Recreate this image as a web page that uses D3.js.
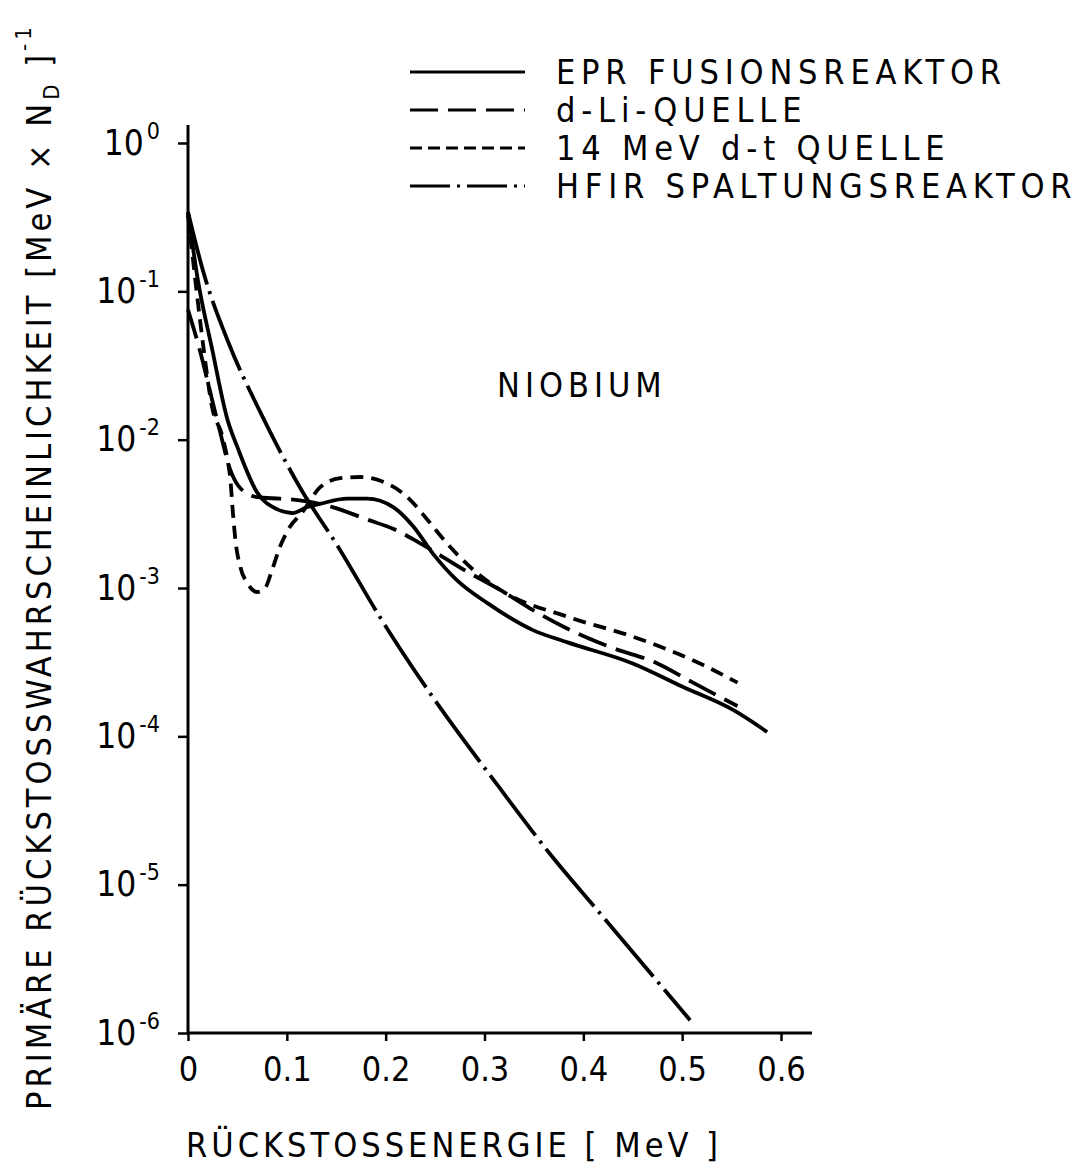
<!DOCTYPE html>
<html>
<head>
<meta charset="utf-8">
<script src="https://cdn.jsdelivr.net/npm/d3@7"></script>
<style>
  body { margin: 0; background: #fff; }
  text { font-family: "DejaVu Sans Condensed", "DejaVu Sans", sans-serif; fill: #000; }
</style>
</head>
<body>
<div id="chart-area"></div>
<script>
// recoil energy (MeV) and probability per series
const eprEnergy = [0, 0.010, 0.024, 0.040, 0.050, 0.070, 0.090, 0.106, 0.120, 0.134, 0.161, 0.181, 0.208, 0.228, 0.248, 0.272, 0.303, 0.349, 0.384, 0.450, 0.501, 0.552, 0.586];
const eprValues = [0.343, 0.119, 0.042, 0.0136, 0.0089, 0.0044, 0.0034, 0.0032, 0.0035, 0.0037, 0.0040, 0.0040, 0.0035, 0.0026, 0.0017, 0.00113, 0.00079, 0.00052, 0.00043, 0.00031, 0.000215, 0.00015, 0.000107];

const dliEnergy = [0, 0.012, 0.022, 0.032, 0.043, 0.053, 0.070, 0.093, 0.113, 0.147, 0.181, 0.208, 0.235, 0.285, 0.316, 0.346, 0.382, 0.427, 0.475, 0.511, 0.556];
const dliValues = [0.075, 0.040, 0.0216, 0.0116, 0.0062, 0.0047, 0.0041, 0.0040, 0.0039, 0.0035, 0.0029, 0.0025, 0.0020, 0.00126, 0.00097, 0.00073, 0.00054, 0.00040, 0.00031, 0.00023, 0.00016];

const dtEnergy = [0, 0.008, 0.016, 0.024, 0.035, 0.040, 0.043, 0.045, 0.048, 0.053, 0.060, 0.070, 0.078, 0.085, 0.093, 0.103, 0.115, 0.134, 0.154, 0.174, 0.194, 0.222, 0.242, 0.262, 0.289, 0.316, 0.384, 0.450, 0.518, 0.556];
const dtValues = [0.327, 0.110, 0.040, 0.017, 0.0104, 0.0073, 0.0053, 0.0035, 0.0021, 0.00138, 0.00108, 0.00094, 0.00100, 0.00132, 0.00189, 0.00258, 0.0032, 0.0048, 0.0055, 0.0056, 0.0053, 0.0041, 0.0029, 0.0020, 0.00132, 0.00097, 0.00064, 0.00047, 0.00031, 0.00023];

const hfirEnergy = [0, 0.015, 0.041, 0.073, 0.113, 0.154, 0.194, 0.245, 0.313, 0.369, 0.417, 0.508];
const hfirValues = [0.343, 0.139, 0.045, 0.0154, 0.0048, 0.0018, 0.00064, 0.000195, 4.7e-5, 1.53e-5, 6.4e-6, 1.22e-6];

const seriesNames = ["EPR FUSIONSREAKTOR", "d-Li-QUELLE", "14 MeV d-t QUELLE", "HFIR SPALTUNGSREAKTOR"];
const xTicks = [0, 0.1, 0.2, 0.3, 0.4, 0.5, 0.6];
const yTicks = [1, 1e-1, 1e-2, 1e-3, 1e-4, 1e-5, 1e-6];

const canvasWidth = 1083;
const canvasHeight = 1167;
const plot = { left: 188, right: 781, top: 143, bottom: 1033 };

const canvas = d3.select("#chart-area").append("svg")
  .attr("width", canvasWidth).attr("height", canvasHeight);
canvas.append("rect").attr("width", canvasWidth).attr("height", canvasHeight).attr("fill", "#fff");

const xScale = d3.scaleLinear().domain([0, 0.6]).range([plot.left, plot.right]);
const yScale = d3.scaleLog().domain([1, 1e-6]).range([plot.top, plot.bottom]);

// axes: ticks from d3, long axis lines drawn by hand (they overshoot the domain)
const xAxisGroup = canvas.append("g").attr("transform", `translate(0, ${plot.bottom})`)
  .call(d3.axisBottom(xScale).tickValues(xTicks).tickSize(8).tickSizeOuter(0).tickPadding(16)
    .tickFormat(d => d === 0 ? "0" : d.toFixed(1)));
xAxisGroup.select(".domain").remove();
xAxisGroup.selectAll("line").attr("stroke-width", 2.5);
xAxisGroup.selectAll("text").attr("font-size", "34px").attr("font-family", null);

const yAxisGroup = canvas.append("g").attr("transform", `translate(${plot.left}, 0)`)
  .call(d3.axisLeft(yScale).tickValues(yTicks).tickSize(10).tickSizeOuter(0).tickPadding(18).tickFormat(""));
yAxisGroup.select(".domain").remove();
yAxisGroup.selectAll("line").attr("stroke-width", 2.5);
yAxisGroup.selectAll(".tick text").each(function(d) {
  const t = d3.select(this).attr("font-size", "35px").attr("font-family", null);
  t.append("tspan").text("10");
  t.append("tspan").attr("font-size", "23px").attr("dx", 3).attr("dy", -16).text(Math.round(Math.log10(d)));
});

canvas.append("line").attr("x1", plot.left).attr("x2", plot.left).attr("y1", 125).attr("y2", plot.bottom + 1)
  .attr("stroke", "#000").attr("stroke-width", 3);
canvas.append("line").attr("x1", plot.left - 1).attr("x2", 812).attr("y1", plot.bottom).attr("y2", plot.bottom)
  .attr("stroke", "#000").attr("stroke-width", 3);

// curves
const series = [
  { energy: eprEnergy, values: eprValues, dash: null, legendDash: null },
  { energy: dliEnergy, values: dliValues, dash: "30,10", legendDash: "28,10" },
  { energy: dtEnergy, values: dtValues, dash: "13,8", legendDash: "12,6" },
  { energy: hfirEnergy, values: hfirValues, dash: "75,7,3,7", legendDash: "40,7,3,7" }
];

const line = d3.line()
  .x(d => xScale(d[0]))
  .y(d => yScale(d[1]))
  .curve(d3.curveMonotoneX);

canvas.append("g").selectAll("path")
  .data(series)
  .enter()
  .append("path")
  .attr("d", s => line(s.energy.map((e, i) => [e, s.values[i]])))
  .attr("fill", "none")
  .attr("stroke", "#000")
  .attr("stroke-width", 3.8)
  .attr("stroke-dasharray", s => s.dash);

// legend
const legend = canvas.append("g").attr("transform", "translate(410, 72)");
const legendRows = legend.selectAll("g")
  .data(series)
  .enter()
  .append("g")
  .attr("transform", (d, i) => `translate(0, ${i * 38})`);
legendRows.append("line")
  .attr("x1", 0).attr("x2", 115)
  .attr("stroke", "#000").attr("stroke-width", 3)
  .attr("stroke-dasharray", d => d.legendDash);
legendRows.append("text")
  .attr("x", 146).attr("dy", "0.36em")
  .attr("font-size", "34px").attr("letter-spacing", "5.8px")
  .text((d, i) => seriesNames[i]);

canvas.append("text")
  .attr("x", 497).attr("y", 397)
  .attr("font-size", "34px").attr("letter-spacing", "5px")
  .text("NIOBIUM");

canvas.append("text")
  .attr("x", 186).attr("y", 1157)
  .attr("font-size", "34px").attr("letter-spacing", "4px")
  .text("RÜCKSTOSSENERGIE [ MeV ]");

const yTitle = canvas.append("text")
  .attr("transform", "translate(51, 1110) rotate(-90)")
  .attr("font-size", "34px").attr("letter-spacing", "4px");
yTitle.append("tspan").text("PRIMÄRE RÜCKSTOSSWAHRSCHEINLICHKEIT [MeV × N");
yTitle.append("tspan").attr("font-size", "22px").attr("dy", 8).text("D");
yTitle.append("tspan").attr("dy", -8).text(" ]");
yTitle.append("tspan").attr("font-size", "22px").attr("dy", -20).text("-1");
</script>
</body>
</html>
